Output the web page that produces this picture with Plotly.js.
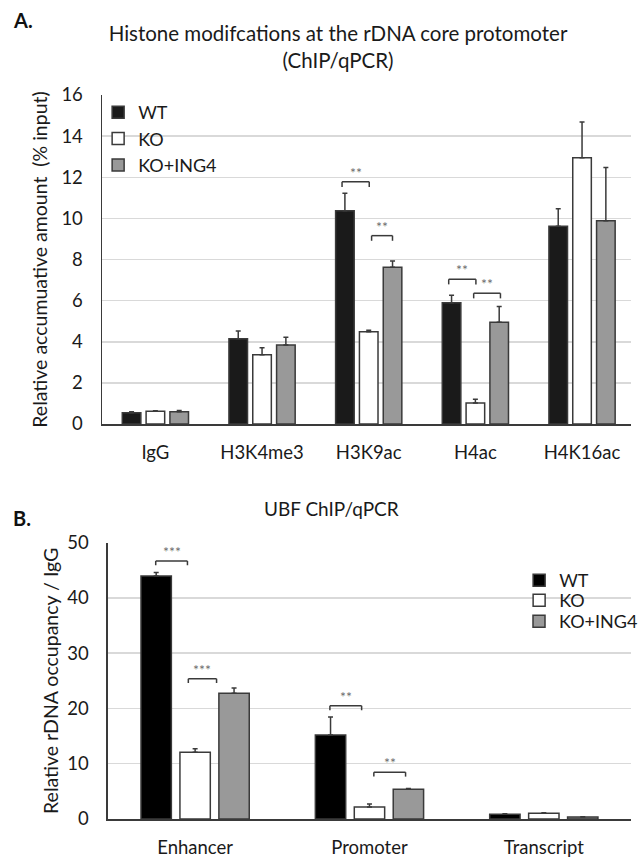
<!DOCTYPE html>
<html><head><meta charset="utf-8">
<script src="https://cdn.plot.ly/plotly-3.0.1.min.js"></script>
<style>html,body{margin:0;padding:0;background:#fff;}#chart{width:643px;height:858px;}</style>
</head><body><div id="chart"></div>
<script>
// ---------- Panel A data ----------
const catsA = ['IgG', 'H3K4me3', 'H3K9ac', 'H4ac', 'H4K16ac'];
const wtA = [0.55, 4.15, 10.37, 5.90, 9.62];
const wtErrA = [0.05, 0.37, 0.85, 0.36, 0.85];
const koA = [0.62, 3.37, 4.49, 1.02, 12.95];
const koErrA = [0.03, 0.34, 0.07, 0.18, 1.74];
const ingA = [0.60, 3.84, 7.62, 4.95, 9.89];
const ingErrA = [0.06, 0.38, 0.31, 0.77, 2.58];
// ---------- Panel B data ----------
const catsB = ['Enhancer', 'Promoter', 'Transcript'];
const wtB = [43.97, 15.19, 0.85];
const wtErrB = [0.65, 3.26, 0.12];
const koB = [12.1, 2.18, 1.03];
const koErrB = [0.6, 0.54, 0.08];
const ingB = [22.74, 5.39, 0.36];
const ingErrB = [0.95, 0.11, 0.05];
const seriesNames = ['WT', 'KO', 'KO+ING4'];
// ---------- significance marks (category index, bracket span, level, label) ----------
const sigCatA = [2, 2, 3, 3];
const sigFromA = [-0.25, 0.027, -0.25, -0.016];
const sigToA = [0.005, 0.223, 0.005, 0.235];
const sigLevelA = [11.78, 9.16, 7.04, 6.36];
const sigTextA = ['**', '**', '**', '**'];
const sigCatB = [0, 0, 1, 1];
const sigFromB = [-0.226, -0.039, -0.227, 0.025];
const sigToB = [-0.044, 0.123, -0.045, 0.207];
const sigLevelB = [46.7, 25.4, 20.5, 8.47];
const sigTextB = ['***', '***', '**', '**'];

const F = 'Lato, "Open Sans", sans-serif';
const TXT = '#1a1a1a';
const EDGE = '#3a3a3a';
const fills = ['#1a1a1a', '#ffffff', '#999999'];
const fillsB = ['#000000', '#ffffff', '#999999'];

function bar(name, x, y, err, color, xa, ya, leg) {
  return {
    type: 'bar', name: name, x: x, y: y, xaxis: xa, yaxis: ya, legend: leg,
    marker: {color: color, line: {color: EDGE, width: 1.5}},
    error_y: {type: 'data', symmetric: false, array: err, arrayminus: err.map(() => 0),
              color: EDGE, thickness: 1.5, width: 2.5},
    hoverinfo: 'skip'
  };
}

const data = [
  bar(seriesNames[0], catsA, wtA, wtErrA, fills[0], 'x', 'y', 'legend'),
  bar(seriesNames[1], catsA, koA, koErrA, fills[1], 'x', 'y', 'legend'),
  bar(seriesNames[2], catsA, ingA, ingErrA, fills[2], 'x', 'y', 'legend'),
  bar(seriesNames[0], catsB, wtB, wtErrB, fillsB[0], 'x2', 'y2', 'legend2'),
  bar(seriesNames[1], catsB, koB, koErrB, fillsB[1], 'x2', 'y2', 'legend3'),
  bar(seriesNames[2], catsB, ingB, ingErrB, fillsB[2], 'x2', 'y2', 'legend4')
];

const shapes = [];
const annotations = [];
function addSig(cat, from, to, lvl, txt, xa, ya, drop) {
  for (let i = 0; i < cat.length; i++) {
    const x0 = cat[i] + from[i], x1 = cat[i] + to[i], y = lvl[i];
    const ln = {type: 'line', xref: xa, yref: ya, line: {color: EDGE, width: 1.5}};
    shapes.push(Object.assign({x0: x0, x1: x1, y0: y, y1: y}, ln));
    shapes.push(Object.assign({x0: x0, x1: x0, y0: y, y1: y - drop}, ln));
    shapes.push(Object.assign({x0: x1, x1: x1, y0: y, y1: y - drop}, ln));
    annotations.push({xref: xa, yref: ya, x: (x0 + x1) / 2, y: y, yanchor: 'bottom', yshift: -1,
      text: txt[i], showarrow: false, font: {family: F, size: 14, color: '#6e6e6e'}});
  }
}
addSig(sigCatA, sigFromA, sigToA, sigLevelA, sigTextA, 'x', 'y', 0.25);
addSig(sigCatB, sigFromB, sigToB, sigLevelB, sigTextB, 'x2', 'y2', 0.8);

annotations.push({xref: 'paper', yref: 'paper', x: 11 / 643, y: 1 - 20 / 858, xanchor: 'left', yanchor: 'middle',
  text: '<b>A.</b>', showarrow: false, font: {family: F, size: 20, color: '#111'}});
annotations.push({xref: 'paper', yref: 'paper', x: 11 / 643, y: 1 - 518 / 858, xanchor: 'left', yanchor: 'middle',
  text: '<b>B.</b>', showarrow: false, font: {family: F, size: 20, color: '#111'}});
annotations.push({xref: 'paper', yref: 'paper', x: 338 / 643, y: 1 - 508 / 858, xanchor: 'center', yanchor: 'middle',
  text: 'UBF ChIP/qPCR', showarrow: false, font: {family: F, size: 19, color: TXT}});

const axCommonX = {type: 'category', showline: true, linecolor: EDGE, linewidth: 1.5, ticks: '',
  showgrid: false, zeroline: false, tickfont: {family: F, size: 18.5, color: TXT}, ticklabelstandoff: 11};
const axCommonY = {showline: true, linecolor: EDGE, linewidth: 1.5, ticks: '', gridcolor: '#d9d9d9', gridwidth: 1.5,
  zeroline: false, tickfont: {family: F, size: 18.5, color: TXT}, ticklabelstandoff: 14};

function leg(x, top) {
  return {x: x / 643, y: 1 - top / 858, xanchor: 'left', yanchor: 'top', bgcolor: 'rgba(0,0,0,0)',
    font: {family: F, size: 18, color: TXT}};
}

const layout = {
  width: 643, height: 858, margin: {l: 0, r: 0, t: 0, b: 0},
  paper_bgcolor: '#ffffff', plot_bgcolor: '#ffffff',
  font: {family: F, size: 18, color: TXT},
  barmode: 'group', bargap: 0.33, bargroupgap: 0.22,
  title: {text: 'Histone modifcations at the rDNA core protomoter<br>(ChIP/qPCR)', x: 338 / 643, xanchor: 'center',
    xref: 'container', yref: 'container', y: 1 - 41 / 858, yanchor: 'top', font: {family: F, size: 20.5, color: TXT}},
  xaxis: Object.assign({}, axCommonX, {domain: [104 / 643, 1], anchor: 'y', range: [-0.5, 4.459]}),
  yaxis: Object.assign({}, axCommonY, {domain: [1 - 424 / 858, 1 - 95 / 858], anchor: 'x', range: [0, 16], dtick: 2,
    title: {text: 'Relative accumuative amount\u00a0 (% input)', standoff: 8, font: {family: F, size: 19.5, color: TXT}}}),
  xaxis2: Object.assign({}, axCommonX, {domain: [110 / 643, 1], anchor: 'y2', range: [-0.5, 2.5]}),
  yaxis2: Object.assign({}, axCommonY, {domain: [1 - 819 / 858, 1 - 542.7 / 858], anchor: 'x2', range: [0, 50], dtick: 10,
    title: {text: 'Relative rDNA occupancy / IgG', standoff: 3, font: {family: F, size: 19.5, color: TXT}}}),
  legend: leg(100, 94),
  legend2: leg(529, 562),
  legend3: leg(529, 582),
  legend4: leg(529, 603),
  shapes: shapes,
  annotations: annotations
};

Plotly.newPlot('chart', data, layout, {displayModeBar: false, staticPlot: true});
</script>
</body></html>
